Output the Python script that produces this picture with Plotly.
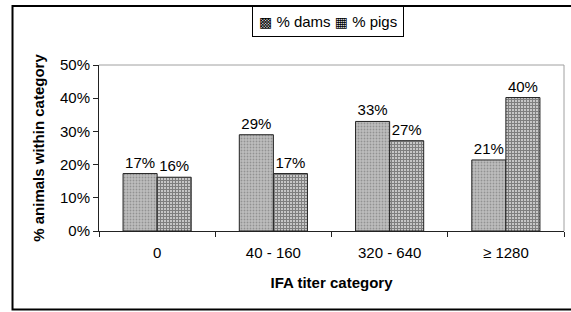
import plotly.graph_objects as go

categories = ["0", "40 - 160", "320 - 640", "≥ 1280"]
dams = [17.3, 29.0, 33.0, 21.4]
pigs = [16.2, 17.3, 27.2, 40.2]
dams_labels = ["17%", "29%", "33%", "21%"]
pigs_labels = ["16%", "17%", "27%", "40%"]
series_names = ["% dams", "% pigs"]
y_ticks = [0, 10, 20, 30, 40, 50]
y_tick_labels = ["0%", "10%", "20%", "30%", "40%", "50%"]

FONT = "Liberation Sans, Arial, sans-serif"
FS = 15

fig = go.Figure()
fig.add_trace(go.Bar(
    x=categories, y=dams, name=series_names[0],
    text=dams_labels, textposition="outside", cliponaxis=False,
    textfont=dict(size=FS, color="black", family=FONT),
    marker=dict(color="#b4b4b4",
                line=dict(color="#222", width=1),
                pattern=dict(shape=".", fgcolor="#666666", bgcolor="#bebebe",
                             size=3, solidity=0.3)),
))
fig.add_trace(go.Bar(
    x=categories, y=pigs, name=series_names[1],
    text=pigs_labels, textposition="outside", cliponaxis=False,
    textfont=dict(size=FS, color="black", family=FONT),
    marker=dict(color="white",
                line=dict(color="#222", width=1),
                pattern=dict(shape="+", fgcolor="black", bgcolor="white",
                             size=3, solidity=0.75)),
))

glyph = '<span style="font-family:DejaVu Sans;font-size:14px">{}</span>'
legend_text = (glyph.format("▩") + "&nbsp;" + series_names[0] + "&nbsp;"
               + glyph.format("▦") + "&nbsp;" + series_names[1])

fig.update_layout(
    width=571, height=312,
    margin=dict(l=99, r=7, t=65, b=81, autoexpand=False),
    paper_bgcolor="white", plot_bgcolor="white",
    font=dict(family=FONT, size=FS, color="black"),
    barmode="group", bargap=0.414, bargroupgap=0,
    showlegend=False,
    xaxis=dict(
        automargin=False,
        showline=True, linecolor="#222", linewidth=1,
        ticks="outside", ticklen=5, tickcolor="#222", tickson="boundaries",
        ticklabelstandoff=8,
        tickfont=dict(size=FS, family=FONT),
        title=dict(text="<b>IFA titer category</b>", font=dict(size=FS, family=FONT), standoff=17),
    ),
    yaxis=dict(
        automargin=False,
        range=[0, 50], tickvals=y_ticks, ticktext=y_tick_labels,
        showline=True, linecolor="#222", linewidth=1,
        ticks="outside", ticklen=5, tickcolor="#222",
        showgrid=False, zeroline=False,
        tickfont=dict(size=FS, family=FONT),
        title=dict(text="<b>% animals within category</b>", font=dict(size=FS, family=FONT), standoff=11),
    ),
    annotations=[
        dict(text=legend_text, xref="paper", yref="paper", x=0.493, y=1.26,
             xanchor="center", yanchor="middle", showarrow=False,
             font=dict(size=FS, family=FONT, color="black"),
             bordercolor="black", borderwidth=1, borderpad=6, bgcolor="white"),
    ],
    shapes=[
        dict(type="line", xref="paper", yref="paper", x0=0, x1=1, y0=1, y1=1,
             line=dict(color="#a0a0a0", width=1)),
        dict(type="line", xref="paper", yref="paper", x0=1, x1=1, y0=0, y1=1,
             line=dict(color="#a0a0a0", width=1)),
        dict(type="rect", xref="paper", yref="paper",
             x0=-0.186, x1=1.03, y0=-0.473, y1=1.355,
             line=dict(color="black", width=2)),
    ],
)

fig.write_html("out.html", config={"displayModeBar": False},
               post_script="document.body.style.margin='0';")
